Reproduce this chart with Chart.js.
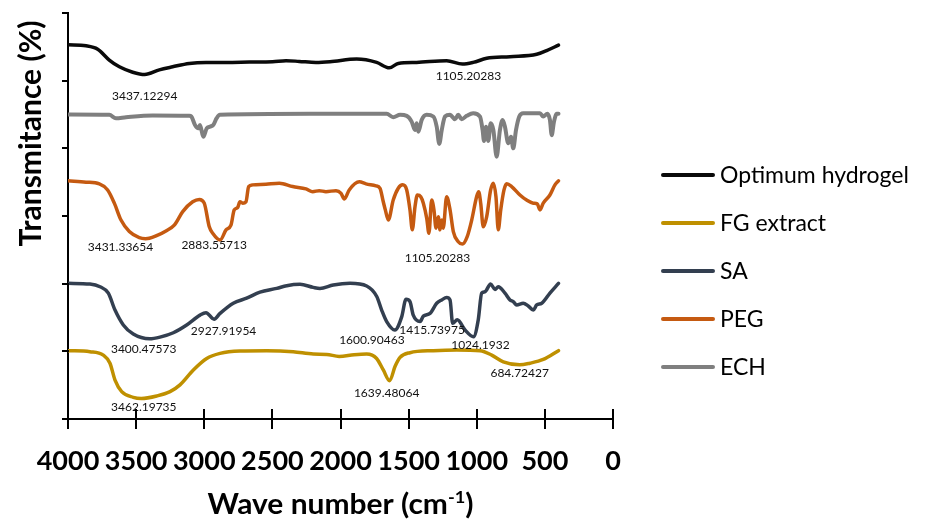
<!DOCTYPE html>
<html>
<head>
<meta charset="utf-8">
<title>FTIR spectra</title>
<script src="https://cdn.jsdelivr.net/npm/chart.js@4.4.1/dist/chart.umd.min.js"></script>
<style>
  html, body { margin: 0; padding: 0; background: #ffffff; }
  #wrap { position: relative; width: 934px; height: 522px; }
</style>
</head>
<body>
<div id="wrap"><canvas id="ftir"></canvas></div>
<script>
// ---- Spectra: [wave number (cm-1), offset transmittance] ----
const hydrogelSpectrum = [
  [4000, 110.6], [3868, 110.3], [3782, 109.3], [3697, 106.1], [3623, 104.1], [3525, 102.5],
  [3437.12294, 101.8], [3330, 103.2], [3232, 104.1], [3110, 105.1], [2987, 105.4], [2840, 105.4],
  [2669, 105.5], [2498, 105.6], [2400, 105.9], [2303, 105.7], [2180, 105.4], [2077, 105.6],
  [1881, 106.4], [1735, 105.4], [1642, 103.8], [1576, 105.1], [1441, 105.4], [1221, 105.9],
  [1105.20283, 104.9], [1026, 105.4], [927, 106.6], [756, 107.1], [560, 107.8], [487, 108.9],
  [400, 110.5]
];

const fgSpectrum = [
  [4000, 20.2], [3839, 19.9], [3741, 18.9], [3692, 16.5], [3655, 11.5], [3606, 8.1], [3521, 6.4],
  [3462.19735, 6.05], [3349, 6.8], [3251, 8.1], [3178, 10.1], [3080, 14.5], [2982, 17.9],
  [2884, 19.4], [2738, 20.1], [2542, 20.2], [2347, 19.9], [2200, 19.2], [2101, 19.1], [2010, 18.5],
  [1900, 19.0], [1808, 19.2], [1735, 17.9], [1686, 14.5], [1639.48064, 11.3], [1600, 15.5],
  [1563, 18.2], [1490, 19.6], [1319, 20.2], [1147, 20.4], [976, 20.2], [890, 18.9], [805, 16.9],
  [684.72427, 16.0], [609, 16.5], [512, 17.6], [400, 20.2]
];

const saSpectrum = [
  [4000, 40.1], [3839, 39.9], [3765, 39.1], [3704, 37.2], [3655, 32.2], [3594, 27.8], [3521, 25.1],
  [3400.47573, 23.7], [3325, 24.2], [3227, 25.5], [3129, 27.8], [3031, 30.7], [2987, 31.4],
  [2927.91954, 29.5], [2884, 31.2], [2787, 34.2], [2689, 35.7], [2591, 37.5], [2468, 38.6],
  [2395, 39.4], [2297, 39.8], [2200, 38.9], [2151, 38.6], [2053, 39.6], [1930, 40.1], [1808, 39.3],
  [1734, 36.2], [1698, 32.2], [1661, 28.8], [1600.90463, 26.3], [1551, 30.2], [1519, 35.4],
  [1490, 34.7], [1466, 30.7], [1415.73975, 28.8], [1392, 30.4], [1343, 31.2], [1294, 34.2],
  [1257, 35.2], [1221, 35.9], [1196, 35.2], [1177, 28.3], [1143, 29.3], [1086, 26.3],
  [1024.1932, 24.3], [989, 29.3], [964, 37.2], [940, 37.6], [898, 39.9], [866, 38.3], [842, 39.1],
  [793, 37.2], [756, 35.2], [732, 34.7], [707, 33.7], [659, 34.2], [622, 33.4], [585, 32.2],
  [560, 33.7], [523, 34.2], [463, 37.2], [400, 40.1]
];

const pegSpectrum = [
  [4000, 70.4], [3868, 70.0], [3770, 69.5], [3709, 67.7], [3660, 63.8], [3611, 58.8], [3550, 55.4],
  [3477, 53.6], [3431.33654, 53.3], [3403, 53.4], [3354, 54.1], [3281, 55.6], [3220, 57.3],
  [3158, 61.3], [3085, 64.2], [3036, 64.9], [3000, 63.8], [2963, 56.8], [2938, 54.9],
  [2883.55713, 52.9], [2840, 55.9], [2804, 57.3], [2780, 61.8], [2755, 62.5], [2738, 64.2],
  [2718, 63.8], [2694, 64.2], [2674, 68.7], [2645, 69.2], [2547, 69.4], [2449, 69.7], [2351, 68.7],
  [2253, 68.0], [2204, 67.2], [2156, 67.5], [2107, 67.2], [2033, 67.5], [1996, 66.7], [1972, 65.0],
  [1936, 67.7], [1862, 70.1], [1813, 69.5], [1740, 68.9], [1710, 68.2], [1686, 64.2], [1671, 61.8],
  [1649, 58.8], [1613, 64.7], [1576, 68.2], [1544, 69.2], [1514, 67.7], [1490, 61.8], [1473, 55.9],
  [1453, 62.8], [1436, 66.2], [1411, 65.7], [1392, 63.8], [1367, 59.3], [1351, 54.9], [1331, 64.7],
  [1314, 61.8], [1299, 56.4], [1282, 59.8], [1270, 55.9], [1257, 58.8], [1246, 56.4], [1221, 65.7],
  [1196, 61.8], [1172, 55.4], [1136, 52.4], [1105.20283, 51.7], [1070, 53.9], [1037, 58.8],
  [1001, 65.7], [986, 67.2], [971, 63.8], [952, 56.8], [927, 59.8], [898, 67.7], [878, 69.7],
  [859, 65.7], [842, 55.9], [824, 61.8], [800, 67.7], [780, 69.5], [744, 68.7], [683, 66.2],
  [634, 64.7], [585, 63.8], [556, 63.6], [536, 61.8], [512, 63.8], [463, 66.2], [426, 69.2],
  [400, 70.4]
];

const echSpectrum = [
  [4000, 90.0], [3697, 89.9], [3648, 88.9], [3574, 89.2], [3378, 89.7], [3110, 89.6], [3095, 89.4],
  [3068, 86.9], [3044, 85.9], [3031, 86.9], [3007, 83.4], [2982, 85.9], [2958, 86.4], [2934, 86.9],
  [2909, 88.9], [2885, 89.9], [2224, 90.2], [1661, 90.2], [1613, 89.2], [1563, 89.9], [1514, 89.6],
  [1478, 87.9], [1453, 85.4], [1441, 87.4], [1429, 84.9], [1404, 88.4], [1368, 89.9], [1319, 89.4],
  [1294, 86.4], [1275, 81.3], [1257, 85.4], [1233, 89.4], [1196, 89.9], [1160, 88.6], [1136, 89.9],
  [1111, 88.6], [1074, 89.6], [1026, 90.4], [976, 89.4], [957, 85.4], [947, 82.2], [932, 86.4],
  [915, 82.2], [898, 87.4], [878, 85.4], [854, 77.5], [830, 85.4], [810, 88.4], [793, 86.4],
  [769, 81.5], [749, 83.4], [732, 80.0], [712, 85.4], [688, 89.4], [659, 90.4], [536, 90.4],
  [512, 89.4], [482, 90.2], [463, 88.4], [450, 83.9], [433, 87.9], [413, 90.2], [400, 90.2]
];

const seriesNames = ['Optimum hydrogel', 'FG extract', 'SA', 'PEG', 'ECH'];
const spectra = [hydrogelSpectrum, fgSpectrum, saSpectrum, pegSpectrum, echSpectrum];
const seriesColors = ['#0a0a0a', '#BF9000', '#333F50', '#C55A11', '#7F7F7F'];
const seriesWidths = [3.5, 3.5, 3.5, 3.5, 4];

// Axis ticks
const waveTicks = [4000, 3500, 3000, 2500, 2000, 1500, 1000, 500, 0];
const transTicks = [0, 20, 40, 60, 80, 100, 120];

// Peak annotations: series index and the wave number written on the label
const peakSeries = [0, 0, 3, 3, 3, 2, 2, 2, 2, 2, 1, 1, 1];
const peakLabels = [
  '3437.12294', '1105.20283',
  '3431.33654', '2883.55713', '1105.20283',
  '3400.47573', '2927.91954', '1600.90463', '1415.73975', '1024.1932',
  '3462.19735', '1639.48064', '684.72427'
];
// label placement relative to each peak, in pixels
const peakOffsets = [
  [0, 22], [6, 12],
  [-25, 8], [-6, 5.5], [-25, 14],
  [-6, 10], [9.5, 12], [-23, 10.5], [12, 9], [7, 8],
  [2.5, 9], [-3, 12], [0, 8]
];

const FONT = 'Lato, "Open Sans", "DejaVu Sans", sans-serif';

const datasets = seriesNames.map((name, i) => ({
  label: name,
  data: spectra[i].map(([w, t]) => ({ x: w, y: t })),
  borderColor: seriesColors[i],
  backgroundColor: seriesColors[i],
  borderWidth: seriesWidths[i],
  pointRadius: 0,
  pointHoverRadius: 0,
  fill: false,
  cubicInterpolationMode: 'monotone',
  borderCapStyle: 'round',
  borderJoinStyle: 'round'
}));

const decorations = {
  id: 'decorations',
  afterDatasetsDraw(chart) {
    const { ctx, scales: { x, y } } = chart;
    ctx.save();
    ctx.font = '12px ' + FONT;
    ctx.fillStyle = '#111111';
    ctx.textAlign = 'center';
    ctx.textBaseline = 'middle';
    peakLabels.forEach((label, i) => {
      const wave = parseFloat(label);
      const pt = spectra[peakSeries[i]].find(p => p[0] === wave);
      const px = x.getPixelForValue(wave) + peakOffsets[i][0];
      const py = y.getPixelForValue(pt[1]) + peakOffsets[i][1];
      ctx.fillText(label, px, py);
    });
    ctx.restore();
  },
  afterDraw(chart) {
    const { ctx, chartArea, scales: { x, y } } = chart;
    ctx.save();
    ctx.strokeStyle = '#000000';
    ctx.lineWidth = 2;
    // tick marks crossing the wave-number axis
    x.ticks.forEach(t => {
      const px = Math.round(x.getPixelForValue(t.value));
      ctx.beginPath();
      ctx.moveTo(px, chartArea.bottom - 10);
      ctx.lineTo(px, chartArea.bottom + 10);
      ctx.stroke();
    });
    // outer tick marks on the transmittance axis
    y.ticks.forEach(t => {
      const py = Math.round(y.getPixelForValue(t.value));
      ctx.beginPath();
      ctx.moveTo(chartArea.left - 6, py);
      ctx.lineTo(chartArea.left + 1, py);
      ctx.stroke();
    });

    // y-axis title
    ctx.fillStyle = '#000000';
    ctx.save();
    ctx.translate(41, 133.5);
    ctx.rotate(-Math.PI / 2);
    ctx.font = 'bold 30px ' + FONT;
    ctx.textAlign = 'center';
    ctx.textBaseline = 'alphabetic';
    ctx.fillText('Transmitance (%)', 0, 0, 227);
    ctx.restore();

    // x-axis title with superscript
    const mainFont = 'bold 28px ' + FONT;
    const supFont = 'bold 17px ' + FONT;
    ctx.font = mainFont;
    const w1 = ctx.measureText('Wave number (cm').width;
    const w3 = ctx.measureText(')').width;
    ctx.font = supFont;
    const w2 = ctx.measureText('-1').width;
    const total = w1 + w2 + w3;
    const targetW = 266;
    const sx = targetW / total;
    const cx = (chartArea.left + chartArea.right) / 2;
    ctx.save();
    ctx.translate(cx - targetW / 2, 514);
    ctx.scale(sx, 1);
    ctx.textAlign = 'left';
    ctx.textBaseline = 'alphabetic';
    ctx.font = mainFont;
    ctx.fillText('Wave number (cm', 0, 0);
    ctx.font = supFont;
    ctx.fillText('-1', w1, -11);
    ctx.font = mainFont;
    ctx.fillText(')', w1 + w2, 0);
    ctx.restore();

    // legend
    const rows = [175, 223, 271, 319, 367];
    ctx.font = '23px ' + FONT;
    ctx.textAlign = 'left';
    ctx.textBaseline = 'middle';
    seriesNames.forEach((name, i) => {
      ctx.strokeStyle = seriesColors[i];
      ctx.lineWidth = 4;
      ctx.lineCap = 'round';
      ctx.beginPath();
      ctx.moveTo(663, rows[i]);
      ctx.lineTo(713, rows[i]);
      ctx.stroke();
      ctx.fillStyle = '#000000';
      ctx.fillText(name, 720, rows[i] + 1);
    });
    ctx.restore();
  }
};

new Chart(document.getElementById('ftir'), {
  type: 'line',
  data: { datasets },
  options: {
    responsive: true,
    maintainAspectRatio: false,
    animation: false,
    events: [],
    layout: { padding: { left: 68, right: 321, top: 13, bottom: 43 } },
    plugins: {
      legend: { display: false },
      tooltip: { enabled: false },
      title: { display: false }
    },
    scales: {
      x: {
        type: 'linear',
        reverse: true,
        min: 0,
        max: 4000,
        afterBuildTicks: s => { s.ticks = waveTicks.map(v => ({ value: v })); },
        afterFit: s => { s.height = 60; },
        ticks: {
          autoSkip: false,
          maxRotation: 0,
          minRotation: 0,
          padding: 26,
          color: '#000000',
          font: { family: FONT, size: 27, weight: 'bold' },
          callback: v => String(v)
        },
        grid: { display: false, drawTicks: false },
        border: { display: true, color: '#000000', width: 2 }
      },
      y: {
        type: 'linear',
        min: 0,
        max: 120,
        afterBuildTicks: s => { s.ticks = transTicks.map(v => ({ value: v })); },
        afterFit: s => { s.width = 0; },
        ticks: { display: false },
        grid: { display: false, drawTicks: false },
        border: { display: true, color: '#000000', width: 2 }
      }
    }
  },
  plugins: [decorations]
});
</script>
</body>
</html>
